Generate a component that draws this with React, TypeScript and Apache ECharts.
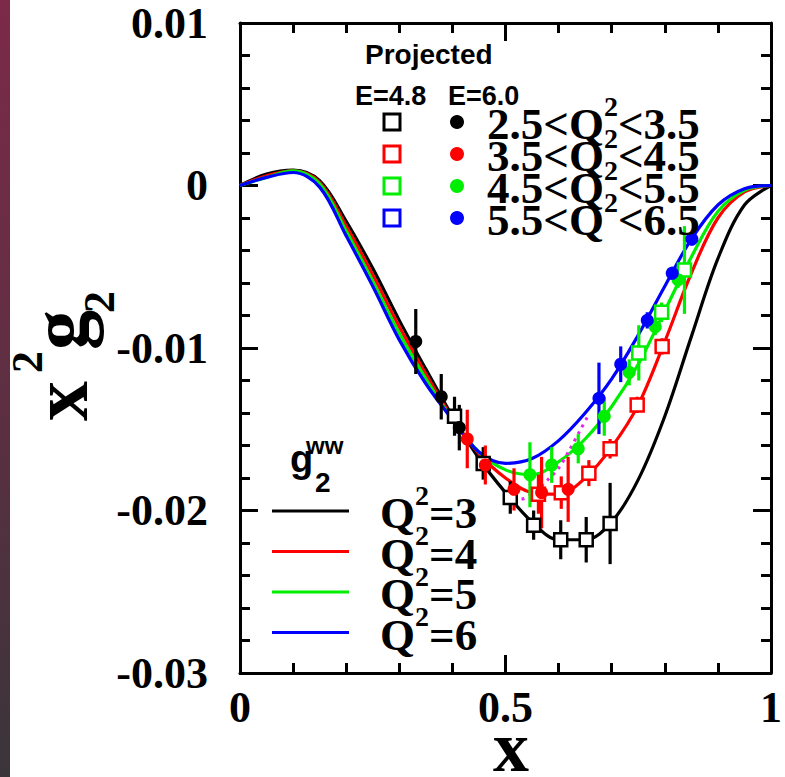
import React, { useEffect, useRef } from "react";
import * as echarts from "echarts";

// ---- data ----
const CURVE_X = [0, 0.05, 0.1, 0.15, 0.2, 0.25, 0.3, 0.35, 0.4, 0.45, 0.5, 0.55, 0.6, 0.65, 0.7, 0.75, 0.8, 0.85, 0.9, 0.95, 1.0];
const G2WW_Q3 = [0, 0.0007, 0.00095, 0.0003, -0.0022, -0.0051, -0.0083, -0.0113, -0.0142, -0.0168, -0.0189, -0.0207, -0.0218, -0.0218, -0.0207, -0.0181, -0.0142, -0.0093, -0.0045, -0.0012, 0];
const G2WW_Q4 = [0, 0.0006, 0.0009, 0.0002, -0.0025, -0.0055, -0.0087, -0.0116, -0.0143, -0.0165, -0.018, -0.0189, -0.019, -0.018, -0.0161, -0.0135, -0.0096, -0.0054, -0.002, -0.0004, 0];
const G2WW_Q5 = [0, 0.0005, 0.0009, 0.0001, -0.0028, -0.0059, -0.0091, -0.0119, -0.0144, -0.0164, -0.0175, -0.0178, -0.017, -0.0156, -0.0136, -0.011, -0.0077, -0.0044, -0.0016, -0.0003, 0];
const G2WW_Q6 = [0, 0.0005, 0.0008, -0.0001, -0.0031, -0.0062, -0.0095, -0.0122, -0.0144, -0.0164, -0.0171, -0.0168, -0.0157, -0.014, -0.0119, -0.0092, -0.0062, -0.0033, -0.0012, -0.0002, 0];
const MAGENTA_X = [0.5, 0.53, 0.56, 0.58, 0.6, 0.62, 0.64, 0.655];
const MAGENTA_Y = [-0.0193, -0.0193, -0.0187, -0.0181, -0.0174, -0.0163, -0.0151, -0.0142];

// [x, value, error]
const E48_Q3 = [[0.404, -0.0142, 0.0012], [0.458, -0.0171, 0.001], [0.509, -0.0192, 0.001], [0.553, -0.0209, 0.0009], [0.604, -0.0218, 0.0012], [0.652, -0.0218, 0.0014], [0.697, -0.0208, 0.0025]];
const E60_Q3 = [[0.331, -0.0096, 0.002], [0.379, -0.013, 0.0014], [0.413, -0.0149, 0.0014]];
const E48_Q4 = [[0.562, -0.019, 0.0012], [0.605, -0.0189, 0.001], [0.657, -0.0177, 0.0008], [0.697, -0.0162, 0.0006], [0.748, -0.0135, 0.0005], [0.795, -0.0099, 0.0005]];
const E60_Q4 = [[0.428, -0.0156, 0.0018], [0.462, -0.0172, 0.0012], [0.516, -0.0187, 0.0013], [0.568, -0.0189, 0.0022], [0.618, -0.0187, 0.002]];
const E48_Q5 = [[0.751, -0.0103, 0.0017], [0.794, -0.0078, 0.0006], [0.837, -0.0052, 0.0027]];
const E60_Q5 = [[0.546, -0.0178, 0.002], [0.587, -0.0172, 0.0011], [0.637, -0.0162, 0.0009], [0.686, -0.0142, 0.0012], [0.733, -0.0115, 0.0008], [0.782, -0.0087, 0.0005], [0.825, -0.0058, 0.0005]];
const E48_Q6: number[][] = [];
const E60_Q6 = [[0.676, -0.0131, 0.0022], [0.717, -0.011, 0.0011], [0.767, -0.0083, 0.0005], [0.814, -0.0054, 0.0004], [0.851, -0.0033, 0.0004]];

const COLORS = ["#000000", "#ff0000", "#00ee00", "#0000ff"];
const BIN_LABELS = [["2.5", "3.5"], ["3.5", "4.5"], ["4.5", "5.5"], ["5.5", "6.5"]];
const Q2_VALUES = ["3", "4", "5", "6"];
const X_TICKS = [0, 0.5, 1];
const Y_TICKS = [0.01, 0, -0.01, -0.02, -0.03];

const SERIF = "Liberation Serif, Times New Roman, serif";
const SANS = "Liberation Sans, Arial, sans-serif";

function measure(text: string, font: string): number {
  const c = document.createElement("canvas").getContext("2d");
  if (!c) return text.length * 20;
  c.font = font;
  return c.measureText(text).width;
}

export default function App() {
  const ref = useRef<HTMLDivElement>(null);
  useEffect(() => {
    if (!ref.current) return;
    const chart = echarts.init(ref.current, null, { renderer: "svg" });
    const curves = [G2WW_Q3, G2WW_Q4, G2WW_Q5, G2WW_Q6];
    const squares = [E48_Q3, E48_Q4, E48_Q5, E48_Q6];
    const circles = [E60_Q3, E60_Q4, E60_Q5, E60_Q6];

    const tickStyle = { color: "#000", width: 3 };
    const mkX = (pos: string, labels: boolean) => ({
      type: "value", position: pos, min: 0, max: 1, interval: 0.5,
      axisLine: { show: true, onZero: false, lineStyle: { color: "#000", width: 3 } },
      axisTick: { show: true, inside: true, length: 18, lineStyle: tickStyle },
      minorTick: { show: true, splitNumber: 5, length: 10, lineStyle: tickStyle },
      splitLine: { show: false },
      axisLabel: {
        show: labels, margin: 12, color: "#000", fontFamily: SERIF, fontWeight: "bold", fontSize: 44,
        formatter: (v: number) => (X_TICKS.includes(+v.toFixed(2)) ? String(+v.toFixed(2)) : ""),
      },
    });
    const mkY = (pos: string, labels: boolean) => ({
      type: "value", position: pos, min: -0.03, max: 0.01, interval: 0.01,
      axisLine: { show: true, onZero: false, lineStyle: { color: "#000", width: 3 } },
      axisTick: { show: true, inside: true, length: 18, lineStyle: tickStyle },
      minorTick: { show: true, splitNumber: 5, length: 10, lineStyle: tickStyle },
      splitLine: { show: false },
      axisLabel: {
        show: labels, margin: 32, color: "#000", fontFamily: SERIF, fontWeight: "bold", fontSize: 44,
        formatter: (v: number) => {
          const r = +v.toFixed(2);
          return Y_TICKS.includes(r) ? String(r) : "";
        },
      },
    });

    const series: any[] = [];
    curves.forEach((c, i) => {
      series.push({
        type: "line", data: CURVE_X.map((x, j) => [x, c[j]]), smooth: 0.35, symbol: "none",
        lineStyle: { color: COLORS[i], width: 3.2 }, z: 2,
      });
    });
    series.push({
      type: "line", data: MAGENTA_X.map((x, j) => [x, MAGENTA_Y[j]]), smooth: 0.3, symbol: "none",
      lineStyle: { color: "#ee22ee", width: 3, type: [3, 5] }, z: 2,
    });
    const errSeries = (pts: number[][], color: string) => ({
      type: "custom", z: 3,
      data: pts.map(([x, y, e]) => [x, y - e, y + e]),
      renderItem: (_p: any, api: any) => {
        const a = api.coord([api.value(0), api.value(1)]);
        const b = api.coord([api.value(0), api.value(2)]);
        return { type: "line", shape: { x1: a[0], y1: a[1], x2: b[0], y2: b[1] }, style: { stroke: color, lineWidth: 3.2 } };
      },
    });
    [0, 1, 2, 3].forEach((i) => {
      series.push(errSeries(squares[i], COLORS[i]));
      series.push(errSeries(circles[i], COLORS[i]));
    });
    [0, 1, 2, 3].forEach((i) => {
      series.push({
        type: "scatter", z: 4, symbol: "rect", symbolSize: 13,
        data: squares[i].map(([x, y]) => [x, y]),
        itemStyle: { color: "#ffffff", borderColor: COLORS[i], borderWidth: 2.5, opacity: 1 },
      });
      series.push({
        type: "scatter", z: 4, symbol: "circle", symbolSize: 13,
        data: circles[i].map(([x, y]) => [x, y]),
        itemStyle: { color: COLORS[i], opacity: 1 },
      });
    });

    const graphic: any[] = [];
    // left decorative strip
    graphic.push({
      type: "rect", shape: { x: 0, y: 0, width: 10, height: 777 }, z: 0,
      style: { fill: new echarts.graphic.LinearGradient(0, 0, 0, 1, [
        { offset: 0, color: "#7c2a48" }, { offset: 0.5, color: "#5e2f42" }, { offset: 1, color: "#3a3539" }]) },
    });
    const txt = (x: number, y: number, text: string, font: string, lh: number, extra: any = {}) => ({
      type: "text", x, y, z: 10, ...extra,
      style: { text, font, fill: "#000", align: "left", verticalAlign: "middle", lineHeight: lh },
    });
    // y title x^2 g_2 (rotated)
    const rot = Math.PI / 2;
    graphic.push({ type: "text", x: 60, y: 401, rotation: rot, style: { text: "x", font: `bold 80px ${SERIF}`, fill: "#000", align: "center", verticalAlign: "middle", lineHeight: 60 } });
    graphic.push({ type: "text", x: 27, y: 362, rotation: rot, style: { text: "2", font: `bold 44px ${SERIF}`, fill: "#000", align: "center", verticalAlign: "middle", lineHeight: 30 } });
    graphic.push({ type: "text", x: 60, y: 330, rotation: rot, style: { text: "g", font: `bold 80px ${SERIF}`, fill: "#000", align: "center", verticalAlign: "middle", lineHeight: 60 } });
    graphic.push({ type: "text", x: 99, y: 302, rotation: rot, style: { text: "2", font: `bold 44px ${SERIF}`, fill: "#000", align: "center", verticalAlign: "middle", lineHeight: 30 } });
    // x title
    graphic.push({ type: "text", x: 511, y: 747, style: { text: "x", font: `bold 72px ${SERIF}`, fill: "#000", align: "center", verticalAlign: "middle", lineHeight: 40 } });

    // top legend
    graphic.push(txt(365, 54, "Projected", `bold 28px ${SANS}`, 30));
    graphic.push(txt(355, 96, "E=4.8", `bold 27px ${SANS}`, 26));
    graphic.push(txt(448, 96, "E=6.0", `bold 27px ${SANS}`, 26));

    const mainFont = `bold 45px ${SERIF}`;
    const supFont = `bold 28px ${SERIF}`;
    const supText = (x0: number, cy: number, a: string, b: string) => {
      const wa = measure(a, mainFont);
      const ws = measure("2", supFont);
      graphic.push(txt(x0, cy + 2, a, mainFont, 30));
      graphic.push(txt(x0 + wa, cy - 16, "2", supFont, 16));
      graphic.push(txt(x0 + wa + ws, cy + 2, b, mainFont, 30));
    };
    BIN_LABELS.forEach(([lo, hi], i) => {
      const cy = 122 + 32 * i;
      graphic.push({ type: "rect", z: 10, shape: { x: 384, y: cy - 8, width: 16, height: 16 }, style: { fill: "#fff", stroke: COLORS[i], lineWidth: 3 } });
      graphic.push({ type: "circle", z: 10, shape: { cx: 457, cy, r: 7 }, style: { fill: COLORS[i] } });
      supText(487, cy, `${lo}<Q`, `<${hi}`);
    });

    // bottom-left legend
    graphic.push(txt(290, 459, "g", `bold 38px ${SANS}`, 30));
    graphic.push(txt(315, 482, "2", `bold 28px ${SANS}`, 18));
    graphic.push(txt(306, 445, "ww", `bold 24px ${SANS}`, 14));
    Q2_VALUES.forEach((q, i) => {
      const cy = 511 + 40.5 * i;
      graphic.push({ type: "line", shape: { x1: 272, y1: cy, x2: 349, y2: cy }, style: { stroke: COLORS[i], lineWidth: 3 } });
      supText(380, cy, "Q", `=${q}`);
    });

    chart.setOption({
      animation: false,
      backgroundColor: "#ffffff",
      grid: { left: 240, right: 6, top: 23, bottom: 104, containLabel: false },
      xAxis: [mkX("bottom", true), mkX("top", false)],
      yAxis: [mkY("left", true), mkY("right", false)],
      series,
      graphic,
    });
    return () => chart.dispose();
  }, []);
  return <div ref={ref} style={{ position: "absolute", left: 0, top: 0, width: 785, height: 777, background: "#fff" }} />;
}
